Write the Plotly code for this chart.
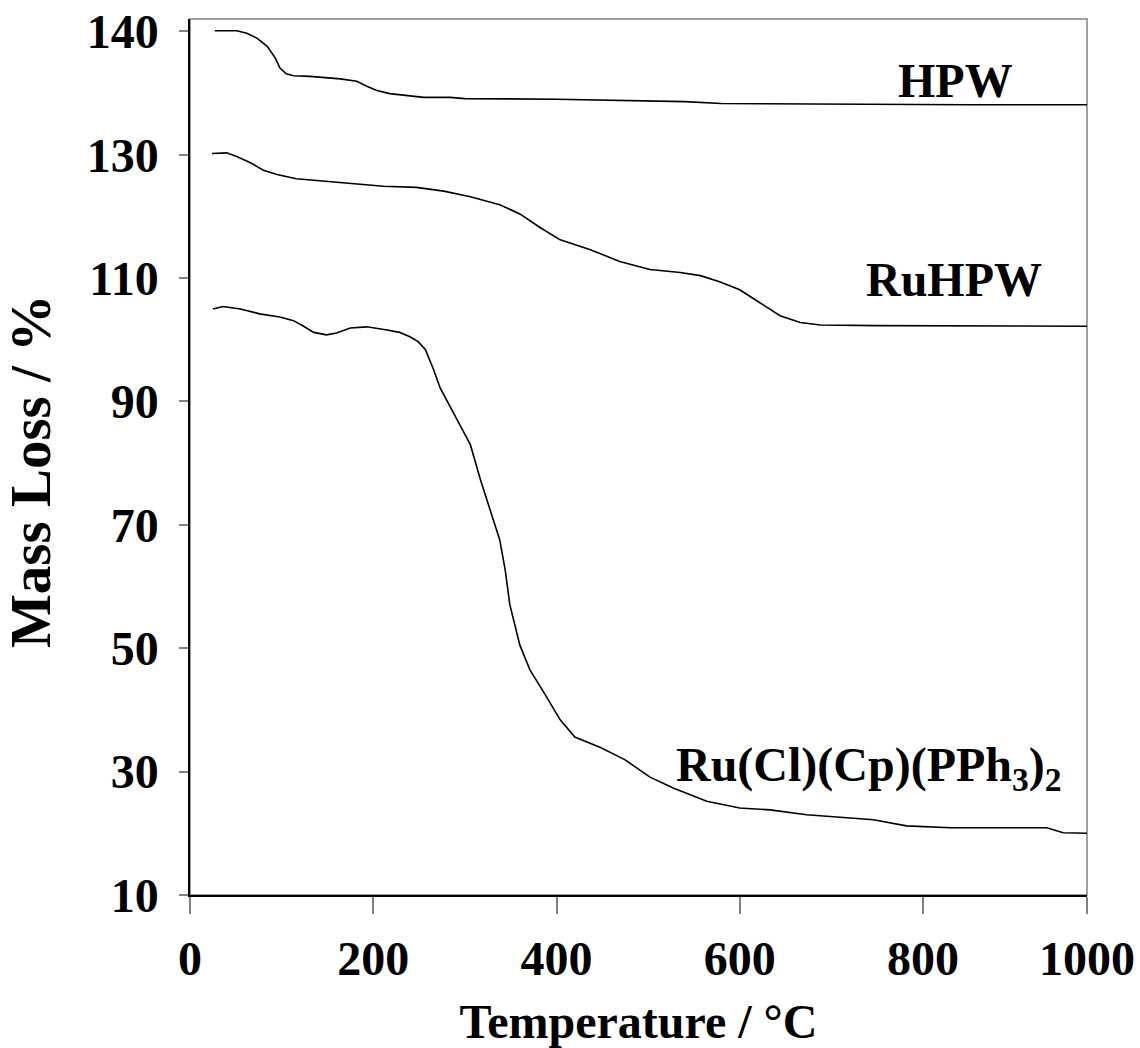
import plotly.graph_objects as go

# Axis scales (as drawn in the reference)
x_tickvals = [0, 200, 400, 600, 800, 979]
x_ticktext = ["0", "200", "400", "600", "800", "1000"]
y_tickvals = [10, 30, 50, 70, 90, 110, 130, 150]
y_ticktext = ["10", "30", "50", "70", "90", "110", "130", "140"]

# HPW
hpw_t = [27, 51, 62, 73, 84, 93, 98, 105, 113, 131, 164, 182, 193, 204, 218, 237, 255,
         284, 300, 400, 500, 540, 580, 700, 850, 979]
hpw_m = [150.1, 150.1, 149.7, 148.9, 147.6, 145.7, 144.1, 143.1, 142.8, 142.7, 142.3, 141.9,
         141.1, 140.4, 139.9, 139.6, 139.3, 139.3, 139.1, 139.0, 138.8, 138.6, 138.3, 138.2,
         138.1, 138.1]

# RuHPW
ruhpw_t = [24, 40, 51, 66, 80, 95, 116, 146, 175, 211, 247, 277, 306, 338, 360, 382, 404,
           437, 469, 502, 535, 557, 578, 600, 622, 644, 666, 688, 750, 850, 979]
ruhpw_m = [130.2, 130.3, 129.7, 128.7, 127.5, 126.8, 126.1, 125.7, 125.3, 124.9, 124.7,
           124.1, 123.2, 121.9, 120.4, 118.2, 116.2, 114.6, 112.7, 111.4, 110.9, 110.4, 109.4,
           108.1, 106.0, 103.9, 102.8, 102.4, 102.3, 102.3, 102.2]

# Ru(Cl)(Cp)(PPh3)2
ru_t = [25, 36, 55, 76, 98, 113, 124, 135, 149, 160, 175, 193, 215, 229, 240, 249, 257,
        266, 273, 295, 306, 317, 327, 338, 344, 349, 360, 371, 388, 404, 420, 448, 475,
        502, 528, 564, 600, 633, 673, 746, 782, 830, 855, 935, 953, 979]
ru_m = [105.0, 105.4, 105.0, 104.2, 103.7, 103.1, 102.2, 101.2, 100.8, 101.1, 101.9, 102.1,
        101.6, 101.2, 100.5, 99.7, 98.4, 95.1, 92.2, 86.2, 83.0, 77.3, 72.5, 67.6, 62.7,
        57.1, 50.5, 46.5, 42.4, 38.4, 35.6, 33.9, 31.9, 29.1, 27.3, 25.2, 24.1, 23.8, 23.0,
        22.2, 21.2, 20.9, 20.9, 20.9, 20.1, 20.0]

series = [("HPW", hpw_t, hpw_m), ("RuHPW", ruhpw_t, ruhpw_m),
          ("Ru(Cl)(Cp)(PPh<sub>3</sub>)<sub>2</sub>", ru_t, ru_m)]
label_pos = {"HPW": (835, 142.0),
             "RuHPW": (834, 109.7),
             "Ru(Cl)(Cp)(PPh<sub>3</sub>)<sub>2</sub>": (741, 30.6)}

FONT = "Liberation Serif"
def f(size):
    return dict(family=FONT, size=size, color="black", weight="bold")

fig = go.Figure()
for name, t, m in series:
    fig.add_trace(go.Scatter(x=t, y=m, mode="lines", name=name,
                             line=dict(color="black", width=1.6), showlegend=False))
    lx, ly = label_pos[name]
    fig.add_annotation(x=lx, y=ly, xref="x", yref="y", text=name,
                       showarrow=False, font=f(48),
                       xanchor="center", yanchor="middle")

# y-axis title placed as annotation
fig.add_annotation(x=(31 - 190) / 897, y=(895 - 472) / 876, xref="paper", yref="paper",
                   text="Mass Loss / %", textangle=-90, showarrow=False, font=f(57),
                   xanchor="center", yanchor="middle")

fig.add_shape(type="rect", xref="paper", yref="paper", x0=0, x1=1, y0=0, y1=1,
              line=dict(color="#808080", width=1.5), layer="below")

fig.update_layout(
    width=1140, height=1048,
    margin=dict(l=190, r=53, t=19, b=153),
    paper_bgcolor="white", plot_bgcolor="white",
    font=f(48),
    xaxis=dict(range=[0, 979], tickvals=x_tickvals, ticktext=x_ticktext, automargin=False,
               showgrid=False, zeroline=False, showline=True, linecolor="black", linewidth=2,
               ticks="outside", ticklen=17, tickcolor="#808080", tickwidth=2,
               ticklabelstandoff=3, tickfont=f(48),
               title=dict(text="Temperature / °C", standoff=39, font=f(48))),
    yaxis=dict(range=[10, 152], tickvals=y_tickvals, ticktext=y_ticktext, automargin=False,
               showgrid=False, zeroline=False, showline=True, linecolor="black", linewidth=1.5,
               ticks="outside", ticklen=9, tickcolor="#808080", tickwidth=2,
               ticklabelstandoff=11, tickfont=f(48)),
)

fig.write_html("out.html")
